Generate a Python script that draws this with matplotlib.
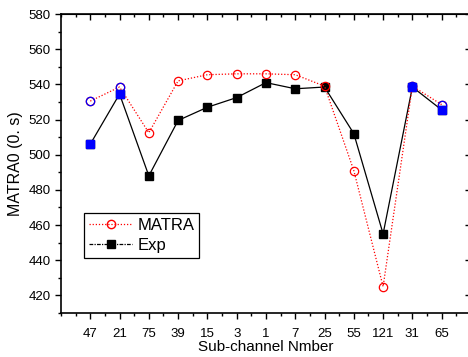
import matplotlib
matplotlib.use("Agg")
import matplotlib.pyplot as plt
from matplotlib.lines import Line2D
from matplotlib.ticker import MultipleLocator

plt.rcParams['font.family'] = ['Liberation Sans', 'DejaVu Sans']

channels = ['47', '21', '75', '39', '15', '3', '1', '7', '25', '55', '121', '31', '65']
matra = [530.5, 538.5, 512.5, 542, 545.5, 546, 546, 545.5, 539, 491, 425, 539, 528.5]
exp = [506, 534.5, 488, 519.5, 527, 532.5, 541, 537.5, 538.5, 512, 455, 538.5, 525.5]
# channels whose markers are drawn in blue
blue_channels = ['47', '21', '31', '65']

x = list(range(1, len(channels) + 1))

fig = plt.figure(figsize=(4.68, 3.57), dpi=100)
ax = fig.add_axes([0.1303, 0.1232, 0.876, 0.8375])

ax.plot(x, exp, color='black', lw=0.9, ls='-', marker='s', ms=5.5,
        mfc='black', mec='black', zorder=2)
ax.plot(x, matra, color='red', lw=0.9, ls=(0, (1, 1.5)), marker='o', ms=6,
        mfc='none', mec='red', mew=0.9, zorder=3)

bx = [x[i] for i, c in enumerate(channels) if c in blue_channels]
ax.plot(bx, [exp[i] for i, c in enumerate(channels) if c in blue_channels],
        ls='none', marker='s', ms=5.5, mfc='blue', mec='blue', zorder=4)
ax.plot(bx, [matra[i] for i, c in enumerate(channels) if c in blue_channels],
        ls='none', marker='o', ms=6, mfc='none', mec='blue', mew=0.9, zorder=5)

ax.set_xlim(0, 14)
ax.set_ylim(410, 580)
ax.set_xticks(x)
ax.set_xticklabels(channels, fontsize=9.5)
ax.xaxis.set_minor_locator(MultipleLocator(0.5))
ax.yaxis.set_major_locator(MultipleLocator(20))
ax.yaxis.set_minor_locator(MultipleLocator(10))
ax.tick_params(axis='y', labelsize=9.5)

ax.tick_params(which='both', direction='out', top=False, right=False, width=1)
ax.tick_params(which='major', length=4)
ax.tick_params(which='minor', length=2)
ax.tick_params(axis='x', pad=7)

# inward ticks on the top and right sides
axt = ax.secondary_xaxis('top')
axt.set_xticks(x)
axt.xaxis.set_minor_locator(MultipleLocator(0.5))
axt.tick_params(which='both', direction='in', labeltop=False, width=1)
axt.tick_params(which='major', length=4)
axt.tick_params(which='minor', length=2)
axr = ax.secondary_yaxis('right')
axr.yaxis.set_major_locator(MultipleLocator(20))
axr.yaxis.set_minor_locator(MultipleLocator(10))
axr.tick_params(which='both', direction='in', labelright=False, width=1)
axr.tick_params(which='major', length=4)
axr.tick_params(which='minor', length=2)

for s in ax.spines.values():
    s.set_linewidth(1.2)

ax.set_xlabel('Sub-channel Nmber', fontsize=11, labelpad=0)
ax.set_ylabel('MATRA0 (0. s)', fontsize=11.5, labelpad=4)

handles = [
    Line2D([], [], color='red', lw=0.9, ls=(0, (1, 1.5)), marker='o', ms=6,
           mfc='none', mec='red'),
    Line2D([], [], color='black', lw=0.9, ls=(0, (3, 1, 1, 1)), marker='s', ms=5.5,
           mfc='black', mec='black'),
]
leg = ax.legend(handles, ['MATRA', 'Exp'], loc='upper left',
                bbox_to_anchor=(0.056, 0.334), fontsize=12, fancybox=False,
                framealpha=1, edgecolor='black', borderpad=0.3,
                handlelength=2.6, handletextpad=0.3, labelspacing=0.3,
                borderaxespad=0)
leg.get_frame().set_linewidth(0.9)

fig.savefig('out.png', dpi=100)
